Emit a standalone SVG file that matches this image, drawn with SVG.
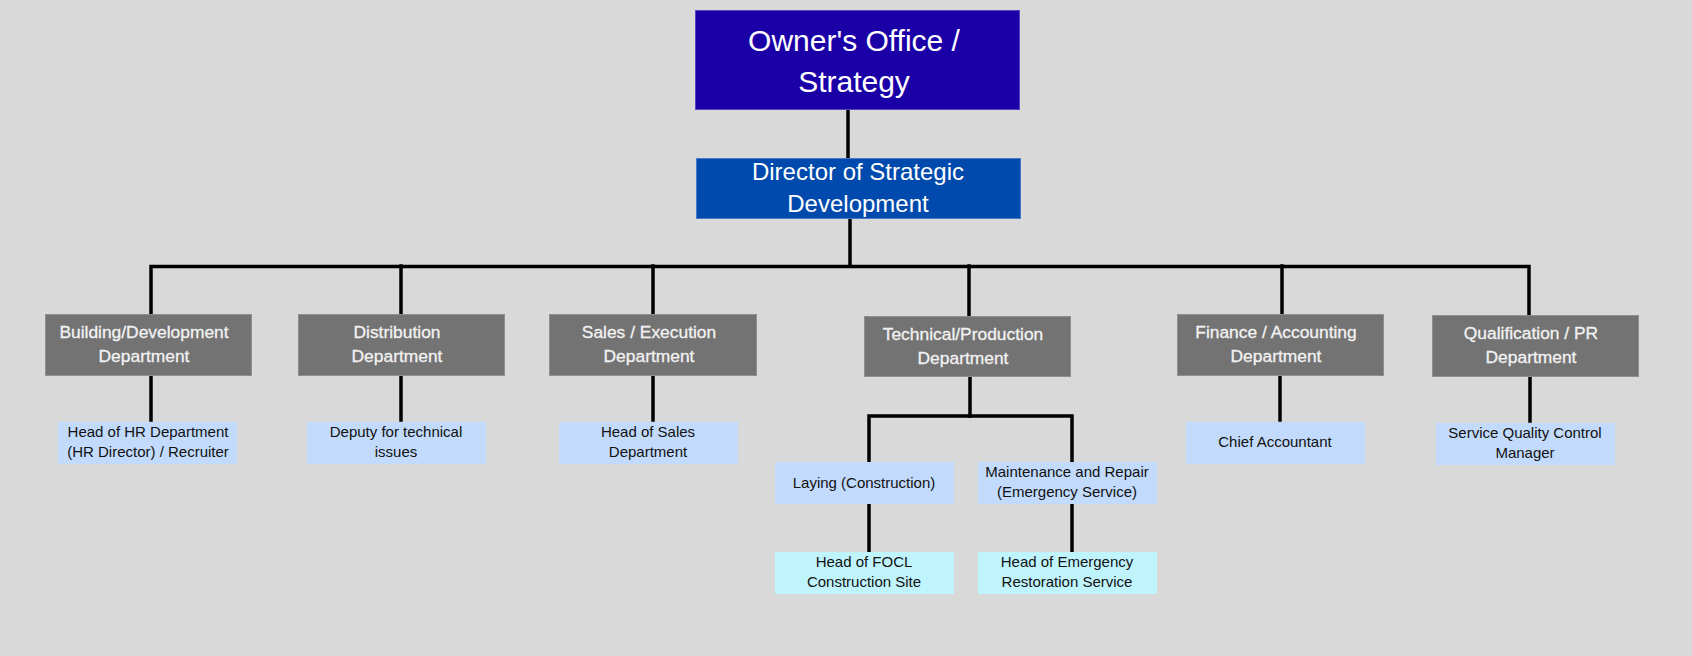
<svg xmlns="http://www.w3.org/2000/svg" width="1692" height="656" viewBox="0 0 1692 656">
<style>
.bg{fill:#d9d9d9}
.owner{fill:#1b00a8;stroke:#5246c4;stroke-width:1}
.dir{fill:#004aad;stroke:#4a78c4;stroke-width:1}
.dept{fill:#737373;stroke:#8f8f8f;stroke-width:1}
.child{fill:#c2dbfc}
.cyan{fill:#c0f4fc}
.t{font-family:"Liberation Sans",Arial,sans-serif;text-anchor:middle}
.tw{fill:#ffffff}
.tl{fill:#f2f2f2;font-size:17.4px;stroke:#f2f2f2;stroke-width:0.3}
.tc{fill:#111111;font-size:15px}
.con{stroke:#000;stroke-width:3.5;fill:none;stroke-linecap:square}
</style>
<rect class="bg" x="0" y="0" width="1692" height="656"/>
<g id="connectors">
<line class="con" x1="848" y1="110" x2="848" y2="157"/>
<line class="con" x1="850" y1="219" x2="850" y2="266"/>
<polyline class="con" points="151,313 151,266.5 1529,266.5 1529,314"/>
<line class="con" x1="401" y1="266" x2="401" y2="313"/>
<line class="con" x1="653" y1="266" x2="653" y2="313"/>
<line class="con" x1="969" y1="266" x2="969" y2="315"/>
<line class="con" x1="1282" y1="266" x2="1282" y2="313"/>
<line class="con" x1="151" y1="376" x2="151" y2="420"/>
<line class="con" x1="401" y1="376" x2="401" y2="420"/>
<line class="con" x1="653" y1="376" x2="653" y2="420"/>
<line class="con" x1="1280" y1="376" x2="1280" y2="420"/>
<line class="con" x1="1530" y1="377" x2="1530" y2="421"/>
<polyline class="con" points="970,377 970,416 869,416 869,461"/>
<polyline class="con" points="970,416 1072,416 1072,461"/>
<line class="con" x1="869" y1="505" x2="869" y2="551"/>
<line class="con" x1="1072" y1="505" x2="1072" y2="551"/>
</g>
<g id="owner">
<rect class="owner" x="695.5" y="10.5" width="324" height="99"/>
<text class="t tw" x="854" y="51" font-size="30">Owner's Office /</text>
<text class="t tw" x="854" y="92" font-size="30">Strategy</text>
</g>
<g id="director">
<rect class="dir" x="696.5" y="158.5" width="324" height="60"/>
<text class="t tw" x="858" y="180" font-size="24">Director of Strategic</text>
<text class="t tw" x="858" y="212" font-size="24">Development</text>
</g>
<g id="dept-building">
<rect class="dept" x="45.5" y="314.5" width="206" height="61"/>
<text class="t tl" x="144" y="338">Building/Development</text>
<text class="t tl" x="144" y="362">Department</text>
</g>
<g id="dept-distribution">
<rect class="dept" x="298.5" y="314.5" width="206" height="61"/>
<text class="t tl" x="397" y="338">Distribution</text>
<text class="t tl" x="397" y="362">Department</text>
</g>
<g id="dept-sales">
<rect class="dept" x="549.5" y="314.5" width="207" height="61"/>
<text class="t tl" x="649" y="338">Sales / Execution</text>
<text class="t tl" x="649" y="362">Department</text>
</g>
<g id="dept-technical">
<rect class="dept" x="864.5" y="316.5" width="206" height="60"/>
<text class="t tl" x="963" y="340">Technical/Production</text>
<text class="t tl" x="963" y="364">Department</text>
</g>
<g id="dept-finance">
<rect class="dept" x="1177.5" y="314.5" width="206" height="61"/>
<text class="t tl" x="1276" y="338">Finance / Accounting</text>
<text class="t tl" x="1276" y="362">Department</text>
</g>
<g id="dept-qualification">
<rect class="dept" x="1432.5" y="315.5" width="206" height="61"/>
<text class="t tl" x="1531" y="339">Qualification / PR</text>
<text class="t tl" x="1531" y="363">Department</text>
</g>
<g id="hr">
<rect class="child" x="58" y="422" width="179" height="42"/>
<text class="t tc" x="148" y="437">Head of HR Department</text>
<text class="t tc" x="148" y="457">(HR Director) / Recruiter</text>
</g>
<g id="deputy">
<rect class="child" x="307" y="422" width="179" height="42"/>
<text class="t tc" x="396" y="437">Deputy for technical</text>
<text class="t tc" x="396" y="457">issues</text>
</g>
<g id="head-sales">
<rect class="child" x="559" y="422" width="179" height="42"/>
<text class="t tc" x="648" y="437">Head of Sales</text>
<text class="t tc" x="648" y="457">Department</text>
</g>
<g id="chief-accountant">
<rect class="child" x="1186" y="422" width="179" height="42"/>
<text class="t tc" x="1275" y="447">Chief Accountant</text>
</g>
<g id="service-quality">
<rect class="child" x="1436" y="423" width="179" height="42"/>
<text class="t tc" x="1525" y="438">Service Quality Control</text>
<text class="t tc" x="1525" y="458">Manager</text>
</g>
<g id="laying">
<rect class="child" x="775" y="462" width="179" height="42"/>
<text class="t tc" x="864" y="488">Laying (Construction)</text>
</g>
<g id="maintenance">
<rect class="child" x="978" y="462" width="179" height="42"/>
<text class="t tc" x="1067" y="477">Maintenance and Repair</text>
<text class="t tc" x="1067" y="497">(Emergency Service)</text>
</g>
<g id="head-focl">
<rect class="cyan" x="775" y="552" width="179" height="42"/>
<text class="t tc" x="864" y="567">Head of FOCL</text>
<text class="t tc" x="864" y="587">Construction Site</text>
</g>
<g id="head-emergency">
<rect class="cyan" x="978" y="552" width="179" height="42"/>
<text class="t tc" x="1067" y="567">Head of Emergency</text>
<text class="t tc" x="1067" y="587">Restoration Service</text>
</g>
</svg>
